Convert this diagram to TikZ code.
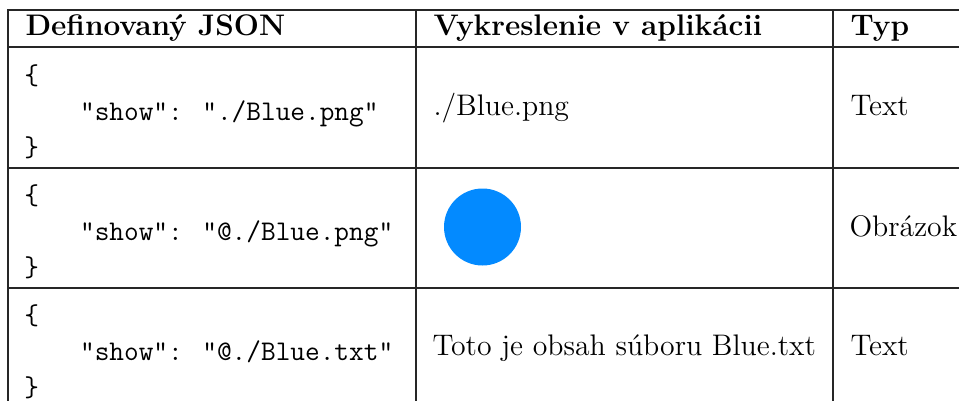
\documentclass[tikz,border=0pt]{standalone}
\usepackage{xcolor}
\usepackage{tikz}
\usetikzlibrary{positioning}
\definecolor{dot blue}{RGB}{3,138,255}
\newcommand{\cellfont}{\fontsize{11.9pt}{14pt}\selectfont}
\newcommand{\codefont}{\fontsize{11.4pt}{14.4pt}\selectfont\ttfamily}
\newcommand{\ind}{\hspace*{1.95em}}
\tikzset{rule/.style={draw=black!85, line width=0.75pt, line cap=rect},
    head/.style={anchor=base west, inner sep=0pt, font=\cellfont\bfseries},
    cell/.style={anchor=base west, inner sep=0pt, font=\cellfont},
    code/.style={anchor=west, inner sep=0pt, align=left, font=\codefont}}

\begin{document}
\begin{tikzpicture}[x=0.4pt,y=-0.4pt]
    \useasboundingbox (0,0) rectangle (959,400);
    \clip (0,0) rectangle (959,400);
    % Definition of the grid
    \foreach \y in {10,47,168,288}
        \draw[rule] (8,\y) -- (975,\y);
    \foreach \x in {8,416,833}
        \draw[rule] (\x,10) -- (\x,415);
    %
    \node[head] (hdjson) at (25,35) {Definovaný JSON};
    \node[head] (hdview) at (433,35) {Vykreslenie v aplikácii};
    \node[head] (hdtype) at (850,35) {Typ};
    % first row
    \node[code] (json1) at (24,112) {\{\\\ind"show": "./Blue.png"\\\}};
    \node[cell] (view1) at (433,115) {./Blue.png};
    \node[cell] (type1) at (850,115) {Text};
    % second row
    \node[code] (json2) at (24,232) {\{\\\ind"show": "@./Blue.png"\\\}};
    \node[circle, fill=dot blue, minimum size=77*0.4pt, inner sep=0pt] (dot2) at (482.5,227) {};
    \node[cell] (type2) at (849,236) {Obrázok};
    % third row
    \node[code] (json3) at (24,352) {\{\\\ind"show": "@./Blue.txt"\\\}};
    \node[cell] (view3) at (432,355) {Toto je obsah súboru Blue.txt};
    \node[cell] (type3) at (850,355) {Text};
\end{tikzpicture}
\end{document}
